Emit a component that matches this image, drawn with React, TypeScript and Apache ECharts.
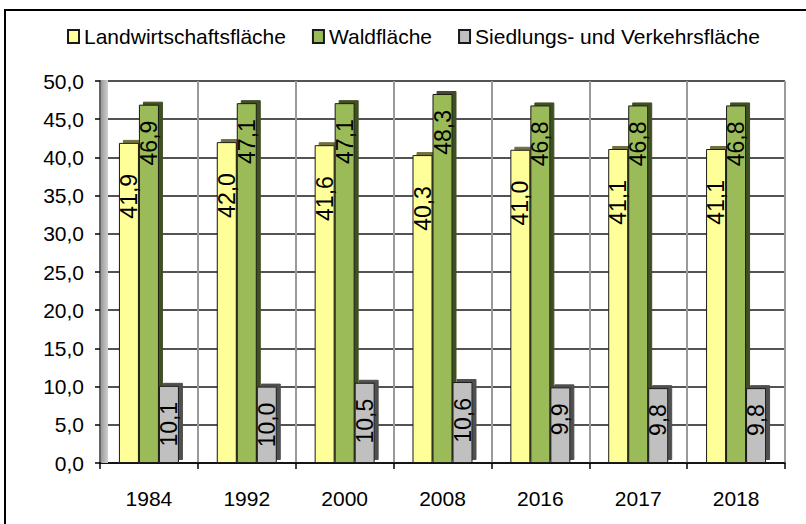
import React, { useEffect, useRef } from "react";
import * as echarts from "echarts";

const years = ["1984", "1992", "2000", "2008", "2016", "2017", "2018"];
const landwirtschaft = [41.9, 42.0, 41.6, 40.3, 41.0, 41.1, 41.1];
const wald = [46.9, 47.1, 47.1, 48.3, 46.8, 46.8, 46.8];
const siedlung = [10.1, 10.0, 10.5, 10.6, 9.9, 9.8, 9.8];
const seriesNames = ["Landwirtschaftsfläche", "Waldfläche", "Siedlungs- und Verkehrsfläche"];

const FONT = "'Liberation Sans', Arial, sans-serif";
const fmt = (v: number) => v.toFixed(1).replace(".", ",");

function makeSeries(name: string, data: number[], color: string, side: string, dist: number) {
  return {
    name,
    type: "bar",
    data,
    barWidth: 20,
    barGap: "0%",
    z: 3,
    itemStyle: {
      color,
      borderColor: "#1a1a1a",
      borderWidth: 1,
      shadowColor: side,
      shadowOffsetX: 4,
      shadowOffsetY: -3,
      shadowBlur: 0,
    },
    label: {
      show: true,
      position: "insideTop",
      distance: dist,
      rotate: 90,
      align: "right",
      verticalAlign: "middle",
      fontFamily: FONT,
      fontSize: 23,
      color: "#000",
      formatter: (p: any) => fmt(p.value),
    },
    labelLayout: { hideOverlap: false },
  };
}

export default function App() {
  const ref = useRef<HTMLDivElement>(null);
  useEffect(() => {
    if (!ref.current) return;
    const chart = echarts.init(ref.current, undefined, { renderer: "svg" });
    chart.setOption({
      animation: false,
      backgroundColor: "#fff",
      textStyle: { fontFamily: FONT },
      legend: {
        left: 62,
        top: 21,
        itemWidth: 11,
        itemHeight: 13,
        itemGap: 26,
        icon: "rect",
        textStyle: { fontFamily: FONT, fontSize: 21, color: "#000" },
        data: seriesNames,
      },
      grid: { left: 100, right: 21, top: 81, bottom: 61, containLabel: false },
      xAxis: {
        type: "category",
        data: years,
        axisLine: { lineStyle: { color: "#000", width: 1.5 } },
        axisTick: { show: true, length: 6, lineStyle: { color: "#000", width: 1.5 } },
        axisLabel: { fontFamily: FONT, fontSize: 21, color: "#000", margin: 25 },
        splitLine: { show: true, lineStyle: { color: "#9a9a9a", width: 2 } },
      },
      yAxis: {
        type: "value",
        min: 0,
        max: 50,
        interval: 5,
        axisLine: { show: true, lineStyle: { color: "#555", width: 1.5 } },
        axisTick: { show: true, length: 5, lineStyle: { color: "#000", width: 1.5 } },
        axisLabel: {
          fontFamily: FONT,
          fontSize: 21,
          color: "#000",
          margin: 16,
          formatter: (v: number) => fmt(v),
        },
        splitLine: { show: true, lineStyle: { color: "#1a1a1a", width: 1.5 } },
      },
      graphic: [
        {
          type: "rect",
          silent: true,
          z: 1,
          shape: { x: 101, y: 80, width: 7, height: 383 },
          style: {
            fill: new echarts.graphic.LinearGradient(0, 0, 1, 0, [
              { offset: 0, color: "#9a9a9a" },
              { offset: 1, color: "#d0d0d0" },
            ]),
          },
        },
        {
          type: "rect",
          silent: true,
          z: 100,
          shape: { x: 5, y: 10, width: 900, height: 700 },
          style: { fill: "none", stroke: "#000", lineWidth: 2 },
        },
      ],
      series: [
        makeSeries(seriesNames[0], landwirtschaft, "#FFFF99", "#6f6f3c", 31),
        makeSeries(seriesNames[1], wald, "#9BBB59", "#3f5020", 16),
        makeSeries(seriesNames[2], siedlung, "#C0C0C0", "#505050", 16),
      ],
    });
    return () => chart.dispose();
  }, []);
  return (
    <div
      ref={ref}
      style={{ position: "absolute", left: 0, top: 0, width: 806, height: 524, overflow: "hidden" }}
    />
  );
}
